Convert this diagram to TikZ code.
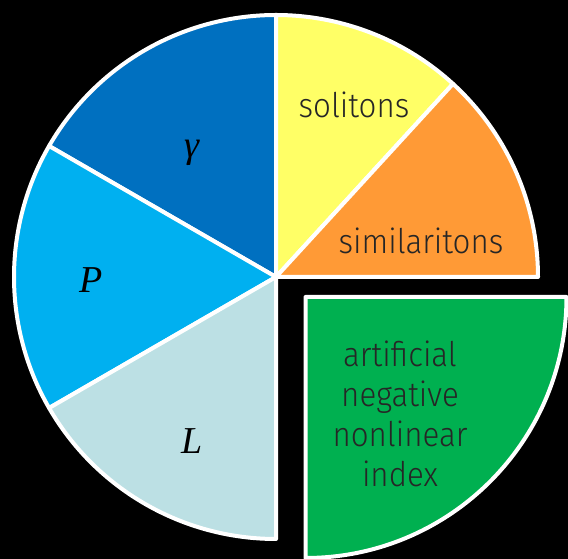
\documentclass[tikz,border=0pt]{standalone}
\usepackage{fontspec}
\newfontfamily\lbl{Fira Sans Light}[FakeStretch=0.92]
\newfontfamily\mth{Liberation Serif}
\definecolor{cgamma}{HTML}{0070C0}
\definecolor{cP}{HTML}{00B0F0}
\definecolor{cL}{HTML}{BCE0E4}
\definecolor{csol}{HTML}{FFFF66}
\definecolor{csim}{HTML}{FF9A36}
\definecolor{cart}{HTML}{00B050}
\tikzset{
  slice/.style={draw=white, line width=4pt, line join=round},
  word/.style={font=\lbl\fontsize{34}{40}\selectfont, text=black!85, align=center, inner sep=0pt},
  sym/.style={font=\mth\itshape\fontsize{38}{40}\selectfont, text=black, inner sep=0pt}
}
\begin{document}
\begin{tikzpicture}[x=1pt,y=1pt]
\useasboundingbox[fill=black] (0,0) rectangle (568,559);
\def\R{262}
\coordinate (c) at (276,282);
\coordinate (g) at (305.5,262);
\fill[cgamma,slice] (c) -- ++(90:\R) arc[start angle=90, end angle=150, radius=\R] -- cycle;
\fill[cP,slice] (c) -- ++(150:\R) arc[start angle=150, end angle=210, radius=\R] -- cycle;
\fill[cL,slice] (c) -- ++(210:\R) arc[start angle=210, end angle=270, radius=\R] -- cycle;
\fill[csol,slice] (c) -- ++(47.5:\R) arc[start angle=47.5, end angle=90, radius=\R] -- cycle;
\fill[csim,slice] (c) -- ++(0:\R) arc[start angle=0, end angle=47.5, radius=\R] -- cycle;
\fill[cart,slice] (g) -- ++(0:\R-1) arc[start angle=0, end angle=-90, radius=\R-1] -- cycle;
\node[sym] (tg) at (192,406) {γ};
\node[sym] (tp) at (91,279) {P};
\node[sym] (tl) at (192,118) {L};
\node[word] (ts) at (354,454) {solitons};
\node[word] (tsim) at (421,318) {similaritons};
\node[word] (ta) at (400,145) {artificial\\negative\\nonlinear\\index};
\end{tikzpicture}
\end{document}
